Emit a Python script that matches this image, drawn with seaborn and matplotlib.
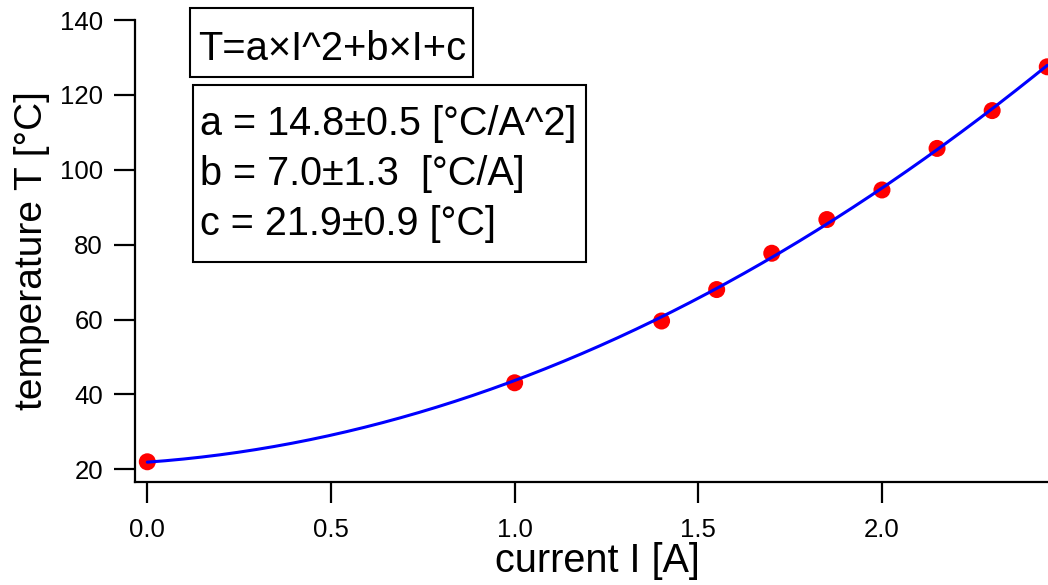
import numpy as np
import pandas as pd
import matplotlib
matplotlib.use("Agg")
import matplotlib.pyplot as plt
from matplotlib.patches import Rectangle
import seaborn as sns

# Measured heater temperature versus drive current
current = [0.0, 1.0, 1.4, 1.55, 1.7, 1.85, 2.0, 2.15, 2.3, 2.45]
temperature = [22.0, 43.1, 59.6, 68.0, 77.7, 86.7, 94.6, 105.7, 115.8, 127.5]

# Quadratic fit parameters T = a*I^2 + b*I + c
fit_a, fit_b, fit_c = 14.8, 7.0, 21.9
fit_err = [0.5, 1.3, 0.9]

x_ticks = [0.0, 0.5, 1.0, 1.5, 2.0]
y_ticks = [20, 40, 60, 80, 100, 120, 140]

sns.set_theme(style="ticks")
plt.rcParams["font.family"] = ["Liberation Sans", "DejaVu Sans"]
tick_fs = 18.5

W, H = 1048, 585
fig = plt.figure(figsize=(W / 100, H / 100), dpi=100)
ax = fig.add_axes([135 / W, 1 - 482 / H, (W - 135) / W, (482 - 20) / H])

df = pd.DataFrame({"I": current, "T": temperature})
sns.scatterplot(data=df, x="I", y="T", ax=ax, color="#ff0000", s=150,
                edgecolor="none", zorder=2, clip_on=False)

i_fit = np.linspace(min(current), max(current), 200)
fit_df = pd.DataFrame({"I": i_fit, "T": fit_a * i_fit**2 + fit_b * i_fit + fit_c})
sns.lineplot(data=fit_df, x="I", y="T", ax=ax, color="#0000ff", lw=2.2, zorder=3)

ax.set_xlim(-0.0335, 2.452)
ax.set_ylim(16.6, 140)
ax.set_xticks(x_ticks)
ax.set_xticklabels([f"{t:.1f}" for t in x_ticks], fontsize=tick_fs)
ax.set_yticks(y_ticks)
ax.set_yticklabels([str(t) for t in y_ticks], fontsize=tick_fs)

for side in ("top", "right"):
    ax.spines[side].set_visible(False)
for side in ("left", "bottom"):
    ax.spines[side].set_linewidth(1.6)
    ax.spines[side].set_color("black")
ax.tick_params(axis="both", direction="out", length=15, width=1.6,
               color="black", labelcolor="black")
ax.tick_params(axis="y", pad=8)
ax.tick_params(axis="x", pad=11)

ax.set_xlabel("current I [A]", fontsize=28.5, color="black")
ax.set_ylabel("temperature T [°C]", fontsize=28, color="black")
ax.xaxis.set_label_coords(0.506, -0.171)
ax.xaxis.label.set_verticalalignment("center")
ax.yaxis.set_label_coords(-0.1128, 0.5)
ax.yaxis.label.set_verticalalignment("center")


def px_box(x0, y0, x1, y1):
    rect = Rectangle((x0 / W, 1 - y1 / H), (x1 - x0) / W, (y1 - y0) / H,
                     transform=fig.transFigure, facecolor="white",
                     edgecolor="black", linewidth=1.5, zorder=5)
    fig.add_artist(rect)


def px_text(x, y, s, size):
    fig.text(x / W, 1 - y / H, s, fontsize=size, ha="left", va="baseline",
             color="black", zorder=6)


# Model equation box
px_box(190, 8, 473, 77)
px_text(198, 60, "T=a×I^2+b×I+c", 28.7)

# Fit results box
px_box(193, 85, 586, 262)
px_text(200, 135, f"a = {fit_a:.1f}±{fit_err[0]:.1f} [°C/A^2]", 28.5)
px_text(200, 185, f"b = {fit_b:.1f}±{fit_err[1]:.1f}  [°C/A]", 28.5)
px_text(200, 235, f"c = {fit_c:.1f}±{fit_err[2]:.1f} [°C]", 28.5)

fig.savefig("out.png", dpi=100, facecolor="white")
